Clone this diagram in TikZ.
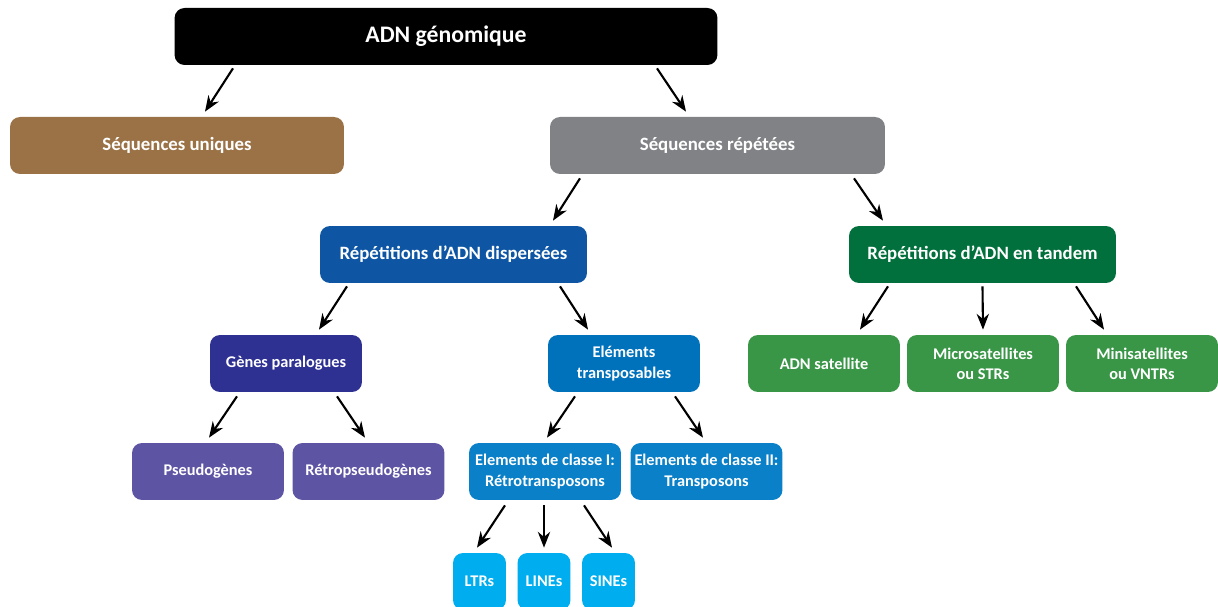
\documentclass[tikz,border=0pt]{standalone}
\usepackage{fontspec}
\setmainfont{Carlito}
\definecolor{brownbox}{RGB}{154, 114, 70}
\definecolor{greybox}{RGB}{128, 130, 133}
\definecolor{darkblue}{RGB}{14, 86, 164}
\definecolor{darkgreen}{RGB}{2, 112, 60}
\definecolor{indigobox}{RGB}{46, 49, 146}
\definecolor{midblue}{RGB}{0, 114, 188}
\definecolor{lightgreen}{RGB}{57, 150, 71}
\definecolor{purplebox}{RGB}{94, 84, 164}
\definecolor{classblue}{RGB}{10, 128, 200}
\definecolor{cyanbox}{RGB}{0, 174, 239}
\usetikzlibrary{arrows.meta}

\begin{document}
\begin{tikzpicture}[x=0.02cm, y=-0.02cm,
    box/.style={rounded corners=0.2cm, inner sep=0pt, text=white, align=center,
                minimum height=1.14cm, font=\bfseries\fontsize{10.7}{12}\selectfont},
    smallbox/.style={box, minimum width=3.04cm, font=\bfseries\fontsize{9.3}{11.5}\selectfont},
    tinybox/.style={smallbox, minimum width=1.06cm},
    arr/.style={-{Stealth[length=9pt, width=7pt]}, line width=1.2pt, black},
  ]
    \clip (0,0) rectangle (1218,607);

    %% top level
    \node[box, fill=black, minimum width=10.86cm,
          font=\bfseries\fontsize{13.5}{15}\selectfont] (adn) at (446, 36.5) {ADN génomique};

    %% second level
    \node[box, fill=brownbox,  minimum width=6.68cm] (uniq) at (177, 145.5) {Séquences uniques};
    \node[box, fill=greybox,   minimum width=6.70cm] (rep)  at (717.5, 145.5) {Séquences répétées};

    %% repeats
    \node[box, fill=darkblue,  minimum width=5.34cm] (disp) at (453.5, 254.5) {Répétitions d’ADN dispersées};
    \node[box, fill=darkgreen, minimum width=5.34cm] (tand) at (982.5, 254.5) {Répétitions d’ADN en tandem};

    %% fourth row
    \node[smallbox, fill=indigobox]  (genes)  at (286, 363.5)  {Gènes paralogues};
    \node[smallbox, fill=midblue]    (transp) at (624, 363.5)  {Eléments\\transposables};
    \node[smallbox, fill=lightgreen] (sat)    at (824, 363.5)  {ADN satellite};
    \node[smallbox, fill=lightgreen] (micro)  at (983, 363.5)  {Microsatellites\\ou STRs};
    \node[smallbox, fill=lightgreen] (mini)   at (1142, 363.5) {Minisatellites\\ou VNTRs};

    %% fifth row
    \node[smallbox, fill=purplebox] (pseudo) at (208, 471.5)   {Pseudogènes};
    \node[smallbox, fill=purplebox] (retro)  at (368.5, 471.5) {Rétropseudogènes};
    \node[smallbox, fill=classblue] (cla)    at (545, 471.5)   {Elements de classe I:\\Rétrotransposons};
    \node[smallbox, fill=classblue] (clb)    at (706.5, 471.5) {Elements de classe II:\\Transposons};

    %% retrotransposons
    \node[tinybox, fill=cyanbox] (ltr)  at (479.5, 581.5) {LTRs};
    \node[tinybox, fill=cyanbox] (line) at (544, 581.5)   {LINEs};
    \node[tinybox, fill=cyanbox] (sine) at (608.5, 581.5) {SINEs};

    % arrows (short, offset from the anchors)
    \draw[arr] ([shift={(-213,3)}]adn.south)  -- ([shift={(28,-5)}]uniq.north);
    \draw[arr] ([shift={(211,3)}]adn.south)   -- ([shift={(-31.5,-5)}]rep.north);
    \draw[arr] ([shift={(-137.5,4)}]rep.south) -- ([shift={(99.5,-5)}]disp.north);
    \draw[arr] ([shift={(136.5,4)}]rep.south)  -- ([shift={(-99.5,-5)}]tand.north);
    \draw[arr] ([shift={(-106.5,3)}]disp.south) -- ([shift={(33,-5)}]genes.north);
    \draw[arr] ([shift={(106.5,3)}]disp.south)  -- ([shift={(-36,-5)}]transp.north);
    \draw[arr] ([shift={(-94.5,3)}]tand.south)  -- ([shift={(36,-5)}]sat.north);
    \draw[arr] ([shift={(0,3)}]tand.south)      -- ([shift={(0,-5)}]micro.north);
    \draw[arr] ([shift={(93.5,3)}]tand.south)   -- ([shift={(-38,-5)}]mini.north);
    \draw[arr] ([shift={(-49,4)}]genes.south)   -- ([shift={(1,-5)}]pseudo.north);
    \draw[arr] ([shift={(51,4)}]genes.south)    -- ([shift={(-3.5,-5)}]retro.north);
    \draw[arr] ([shift={(-49,4)}]transp.south)  -- ([shift={(2,-5)}]cla.north);
    \draw[arr] ([shift={(51,4)}]transp.south)   -- ([shift={(-3.5,-5)}]clb.north);
    \draw[arr] ([shift={(-40,5)}]cla.south)     -- ([shift={(-2.5,-5)}]ltr.north);
    \draw[arr] ([shift={(-1,5)}]cla.south)      -- ([shift={(0,-5)}]line.north);
    \draw[arr] ([shift={(39,5)}]cla.south)      -- ([shift={(3.5,-5)}]sine.north);
\end{tikzpicture}
\end{document}
